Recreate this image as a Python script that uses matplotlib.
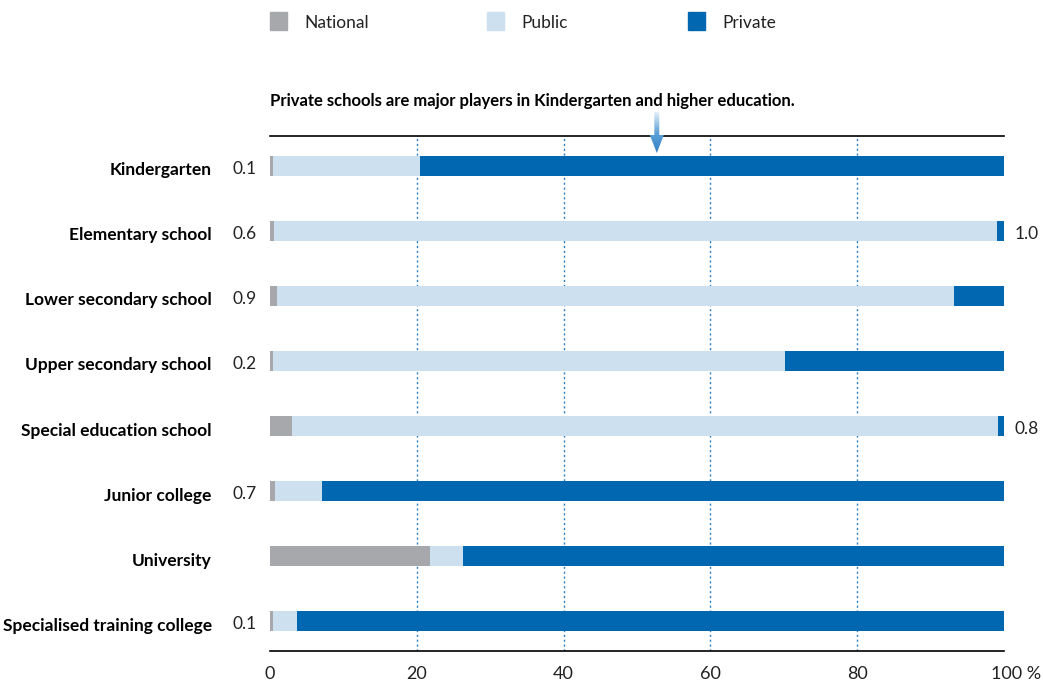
import numpy as np
import matplotlib
matplotlib.use("Agg")
import matplotlib.pyplot as plt
from matplotlib.patches import Rectangle, Polygon
import matplotlib.transforms as mtransforms
from matplotlib.colors import LinearSegmentedColormap

plt.rcParams['font.family'] = ['Lato', 'DejaVu Sans']

# données (en %)
categories = ["Kindergarten", "Elementary school", "Lower secondary school",
              "Upper secondary school", "Special education school",
              "Junior college", "University", "Specialised training college"]
national = [0.1, 0.6, 0.9, 0.2, 3.0, 0.7, 21.8, 0.1]
public = [20.3, 98.4, 92.3, 69.9, 96.2, 6.4, 4.5, 3.6]
private = [79.6, 1.0, 6.8, 29.9, 0.8, 92.9, 73.7, 96.3]
left_labels = ["0.1", "0.6", "0.9", "0.2", "", "0.7", "", "0.1"]
right_labels = ["", "1.0", "", "", "0.8", "", "", ""]
ticks = [0, 20, 40, 60, 80, 100]
tick_labels = ["0", "20", "40", "60", "80", "100 %"]
series_names = ["National", "Public", "Private"]
title = "Private schools are major players in Kindergarten and higher education."

C_NAT = "#a7a8ab"
C_PUB = "#cce0ef"
C_PRI = "#0067b0"
C_GRID = "#2a7fc4"

W, H = 1043, 681
fig = plt.figure(figsize=(W / 100, H / 100), dpi=100)
ax = fig.add_axes([270 / W, 1 - 651 / H, 734 / W, 515 / H])

y = np.arange(len(categories))
nat = np.array(national)
pub = np.array(public)
pri = np.array(private)
# les toutes petites valeurs restent visibles (comme sur l'original)
nat_draw = np.maximum(nat, 0.4)
h = 0.32
ax.barh(y, nat_draw, height=h, color=C_NAT, zorder=3)
ax.barh(y, pub, left=nat, height=h, color=C_PUB, zorder=2)
ax.barh(y, pri, left=nat + pub, height=h, color=C_PRI, zorder=2)

ax.set_xlim(0, 100)
ax.set_ylim(len(categories) - 1 + 0.4615, -0.4615)

# grille pointillée
for t in ticks[1:-1]:
    ax.axvline(t, color=C_GRID, lw=1.0, ls=(0, (1.5, 2)), zorder=1)

for s in ["left", "right"]:
    ax.spines[s].set_visible(False)
for s in ["top", "bottom"]:
    ax.spines[s].set_color("black")
    ax.spines[s].set_linewidth(1.2)

ax.set_yticks(y)
ax.set_yticklabels(categories, fontweight="bold", fontsize=12.5)
ax.tick_params(axis="y", length=0, pad=42)
for lab in ax.get_yticklabels():
    lab.set_transform(lab.get_transform() + mtransforms.ScaledTranslation(0, -0.03, fig.dpi_scale_trans))
ax.set_xticks(ticks)
ax.set_xticklabels(tick_labels, fontsize=13, color="#222222")
ax.tick_params(axis="x", length=0, pad=11)
last = ax.get_xticklabels()[-1]
last.set_transform(last.get_transform() + mtransforms.ScaledTranslation(0.12, 0, fig.dpi_scale_trans))

# petites valeurs à gauche / droite
for i, lab in enumerate(left_labels):
    if lab:
        ax.text(-1.8, i + 0.05, lab, ha="right", va="center", fontsize=12.5, color="#222222", clip_on=False)
for i, lab in enumerate(right_labels):
    if lab:
        ax.text(1.4 + 100, i + 0.05, lab, ha="left", va="center", fontsize=12.5, color="#222222", clip_on=False)

# titre
ax.text(0, -1.0, title, ha="left", va="center", fontsize=12, fontweight="bold",
        color="black", clip_on=False)

# flèche en dégradé (calque en pixels)
ov = fig.add_axes([0, 0, 1, 1], zorder=5)
ov.set_xlim(0, W)
ov.set_ylim(H, 0)
ov.axis("off")
ax_x = 270 + 734 * 52.7 / 100
arrow = Polygon([(ax_x - 2.5, 112), (ax_x + 2.5, 112), (ax_x + 2.5, 135), (ax_x + 7, 135),
                 (ax_x, 153), (ax_x - 7, 135), (ax_x - 2.5, 135)], closed=True,
                facecolor="none", edgecolor="none")
ov.add_patch(arrow)
cmap = LinearSegmentedColormap.from_list("arr", ["#e3eff9", "#5fa2d8", "#2f7fc4"])
grad = np.linspace(0, 1, 100).reshape(-1, 1)
im = ov.imshow(grad, cmap=cmap, extent=(ax_x - 8, ax_x + 8, 153, 112), aspect="auto")
im.set_clip_path(arrow)
ov.set_xlim(0, W)
ov.set_ylim(H, 0)

# légende
leg_x = [270, 487, 688]
colors = [C_NAT, C_PUB, C_PRI]
for x0, c, name in zip(leg_x, colors, series_names):
    fig.patches.append(Rectangle((x0 / W, 1 - 30 / H), 17 / W, 18 / H,
                                 transform=fig.transFigure, color=c))
    fig.text((x0 + 34) / W, 1 - 23 / H, name, ha="left", va="center",
             fontsize=12.5, color="#222222")

fig.savefig("out.png", dpi=100)
